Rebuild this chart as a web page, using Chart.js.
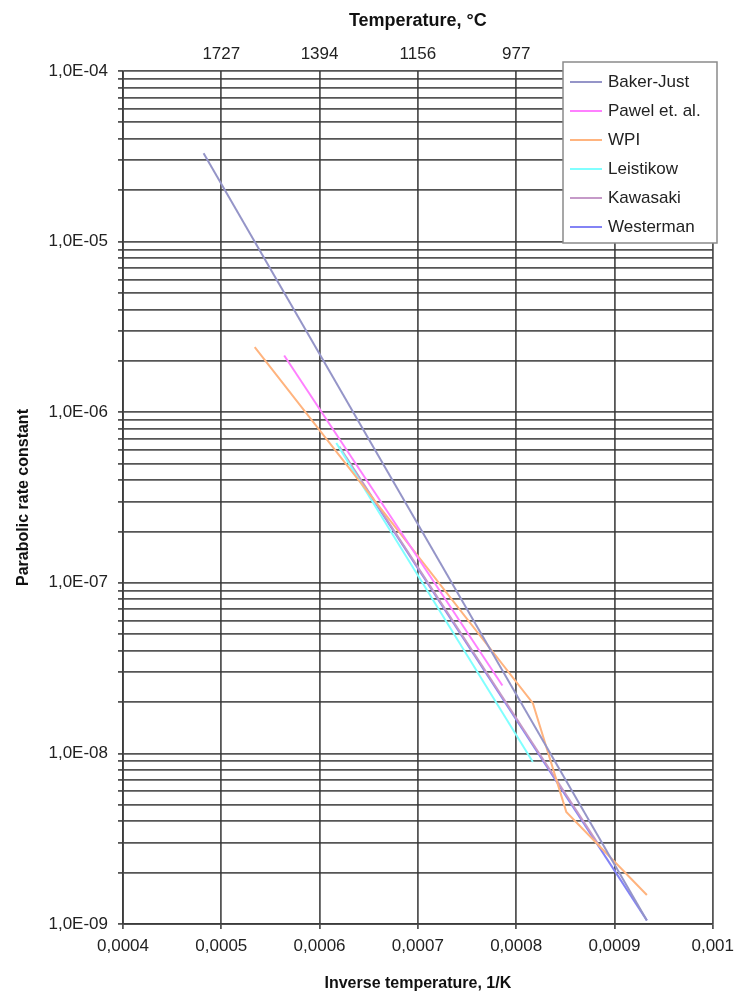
<!DOCTYPE html>
<html>
<head>
    <meta charset="utf-8">
    <title>Parabolic rate constant</title>
    <script src="https://cdn.jsdelivr.net/npm/chart.js"></script>
    <style>
        * {
            font-family: 'Liberation Sans', Arial, sans-serif;
        }
        body {
            margin: 0;
            background-color: #ffffff;
        }
        .chart-container {
            width: 741px;
            height: 996px;
        }
    </style>
</head>
<body>
<div class="chart-container">
    <canvas id="rate_chart"></canvas>
</div>

<script>
// series names and colours
const seriesNames = ['Baker-Just', 'Pawel et. al.', 'WPI', 'Leistikow', 'Kawasaki', 'Westerman'];
const seriesColors = ['#9595c8', '#ff80ff', '#ffb47f', '#80ffff', '#c59ac8', '#8383f5'];

// inverse temperature (1/K) and rate constant for each correlation
const bakerX = [0.000482, 0.000933];
const bakerY = [3.3e-5, 1.05e-9];
const pawelX = [0.000564, 0.000786];
const pawelY = [2.15e-6, 2.5e-8];
const wpiX = [0.000534, 0.000817, 0.000851, 0.000933];
const wpiY = [2.41e-6, 1.97e-8, 4.54e-9, 1.48e-9];
const leistikowX = [0.000617, 0.000817];
const leistikowY = [6.6e-7, 8.9e-9];
const kawasakiX = [0.00062, 0.000886];
const kawasakiY = [6.3e-7, 2.8e-9];
const westermanX = [0.000627, 0.000933];
const westermanY = [5.4e-7, 1.05e-9];

// axes
const xTickValues = [0.0004, 0.0005, 0.0006, 0.0007, 0.0008, 0.0009, 0.001];
const xTickLabels = ['0,0004', '0,0005', '0,0006', '0,0007', '0,0008', '0,0009', '0,001'];
const topTickValues = [0.0005, 0.0006, 0.0007, 0.0008];
const topTickLabels = ['1727', '1394', '1156', '977'];
const yDecades = [1e-9, 1e-8, 1e-7, 1e-6, 1e-5, 1e-4];
const yTickLabels = ['1,0E-09', '1,0E-08', '1,0E-07', '1,0E-06', '1,0E-05', '1,0E-04'];
const yMinorSteps = [2, 3, 4, 5, 6, 7, 8, 9];

const allX = [bakerX, pawelX, wpiX, leistikowX, kawasakiX, westermanX];
const allY = [bakerY, pawelY, wpiY, leistikowY, kawasakiY, westermanY];

const gridColor = 'rgba(55, 55, 55, 0.85)';

function toPoints(xs, ys) {
    return xs.map((x, i) => ({ x: x, y: ys[i] }));
}

function findIndex(list, value) {
    return list.findIndex(v => Math.abs(v - value) < Math.abs(v) * 1e-6);
}

// all y grid values: decades plus 2..9 steps
const yGridValues = [];
yDecades.forEach((d, i) => {
    yGridValues.push(d);
    if (i < yDecades.length - 1) {
        yMinorSteps.forEach(m => yGridValues.push(m * d));
    }
});

const boxLegend = {
    id: 'boxLegend',
    afterDraw(chart) {
        const ctx = chart.ctx;
        const left = 563, top = 62, width = 154, height = 181;
        ctx.save();
        ctx.fillStyle = '#ffffff';
        ctx.fillRect(left, top, width, height);
        ctx.strokeStyle = '#8a8a8a';
        ctx.lineWidth = 1.5;
        ctx.strokeRect(left, top, width, height);
        ctx.font = '17px "Liberation Sans", Arial, sans-serif';
        ctx.textBaseline = 'middle';
        chart.data.datasets.forEach((ds, i) => {
            const y = 82 + i * 29;
            ctx.strokeStyle = ds.borderColor;
            ctx.lineWidth = 2;
            ctx.beginPath();
            ctx.moveTo(570, y);
            ctx.lineTo(602, y);
            ctx.stroke();
            ctx.fillStyle = '#222222';
            ctx.fillText(ds.label, 608, y);
        });
        ctx.restore();
    }
};

const ctx = document.getElementById('rate_chart').getContext('2d');
new Chart(ctx, {
    type: 'scatter',
    data: {
        datasets: seriesNames.map((name, i) => ({
            label: name,
            data: toPoints(allX[i], allY[i]),
            showLine: true,
            borderColor: seriesColors[i],
            backgroundColor: seriesColors[i],
            borderWidth: 2,
            pointRadius: 0,
            tension: 0
        }))
    },
    options: {
        responsive: true,
        maintainAspectRatio: false,
        animation: false,
        layout: {
            padding: { left: 0, right: 26, top: 0, bottom: 0 }
        },
        scales: {
            x: {
                type: 'linear',
                position: 'bottom',
                min: 0.0004,
                max: 0.001,
                afterBuildTicks: scale => {
                    scale.ticks = xTickValues.map(v => ({ value: v }));
                },
                afterFit: scale => { scale.height = 72; },
                ticks: {
                    autoSkip: false,
                    maxRotation: 0,
                    padding: 7,
                    color: '#222222',
                    font: { size: 17 },
                    callback: value => {
                        const i = findIndex(xTickValues, value);
                        return i >= 0 ? xTickLabels[i] : '';
                    }
                },
                grid: {
                    color: gridColor,
                    lineWidth: 1.8,
                    tickLength: 5
                },
                border: { color: gridColor, width: 1.8 },
                title: {
                    display: true,
                    text: 'Inverse temperature, 1/K',
                    color: '#111111',
                    font: { size: 16, weight: 'bold' },
                    padding: { top: 0, bottom: 3 }
                }
            },
            x2: {
                type: 'linear',
                position: 'top',
                min: 0.0004,
                max: 0.001,
                afterBuildTicks: scale => {
                    scale.ticks = topTickValues.map(v => ({ value: v }));
                },
                afterFit: scale => { scale.height = 71; },
                ticks: {
                    autoSkip: false,
                    maxRotation: 0,
                    padding: 6,
                    color: '#222222',
                    font: { size: 17 },
                    callback: value => {
                        const i = findIndex(topTickValues, value);
                        return i >= 0 ? topTickLabels[i] : '';
                    }
                },
                grid: { display: false, drawTicks: false },
                border: { display: false },
                title: {
                    display: true,
                    text: 'Temperature, °C',
                    color: '#111111',
                    font: { size: 18, weight: 'bold' },
                    padding: { top: 10, bottom: 0 }
                }
            },
            y: {
                type: 'logarithmic',
                min: 1e-9,
                max: 1e-4,
                afterBuildTicks: scale => {
                    scale.ticks = yGridValues.map(v => ({ value: v }));
                },
                afterFit: scale => { scale.width = 123; },
                ticks: {
                    autoSkip: false,
                    padding: 10,
                    color: '#222222',
                    font: { size: 17 },
                    callback: value => {
                        const i = findIndex(yDecades, value);
                        return i >= 0 ? yTickLabels[i] : '';
                    }
                },
                grid: {
                    color: gridColor,
                    lineWidth: 1.8,
                    tickLength: 5
                },
                border: { color: gridColor, width: 1.8 },
                title: {
                    display: true,
                    text: 'Parabolic rate constant',
                    color: '#111111',
                    font: { size: 16, weight: 'bold' },
                    padding: { top: 14, bottom: 0 }
                }
            }
        },
        plugins: {
            legend: { display: false },
            tooltip: { enabled: false }
        }
    },
    plugins: [boxLegend]
});
</script>

</body>
</html>
